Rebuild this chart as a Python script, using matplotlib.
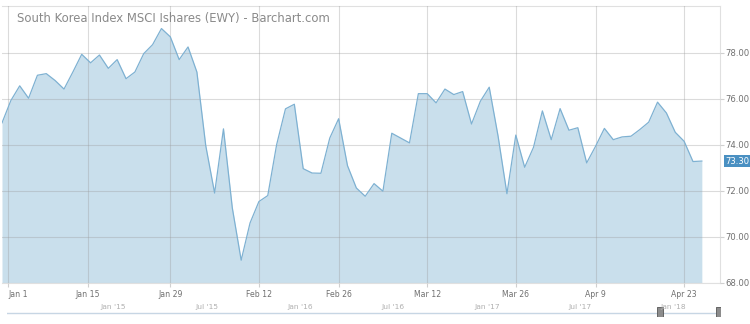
import matplotlib
matplotlib.use('Agg')
import matplotlib.pyplot as plt
import numpy as np

# daily closes, Dec 29 2017 .. Apr 25 2018 (trading days)
closes = [74.96, 75.93, 76.57, 76.03, 77.03, 77.10, 76.80, 76.43, 77.17, 77.94,
          77.57, 77.91, 77.33, 77.71, 76.88, 77.17, 77.97, 78.36, 79.06, 78.70,
          77.71, 78.26, 77.17, 73.97, 71.91, 74.70, 71.26, 68.99, 70.61, 71.54,
          71.80, 74.01, 75.57, 75.77, 72.97, 72.78, 72.77, 74.30, 75.14, 73.10,
          72.13, 71.77, 72.32, 71.99, 74.51, 74.30, 74.09, 76.23, 76.23, 75.83,
          76.43, 76.19, 76.32, 74.91, 75.90, 76.51, 74.38, 71.88, 74.43, 73.03,
          73.90, 75.48, 74.23, 75.58, 74.64, 74.75, 73.22, 73.94, 74.72, 74.23,
          74.35, 74.38, 74.67, 74.99, 75.86, 75.39, 74.55, 74.16, 73.28, 73.30]
# date labels and where they sit on the trading-day index
tick_pos = [0.7, 9.7, 19, 29, 38, 48, 58, 67, 77]
tick_labels = ['Jan 1', 'Jan 15', 'Jan 29', 'Feb 12', 'Feb 26', 'Mar 12', 'Mar 26', 'Apr 9', 'Apr 23']
y_ticks = [68, 70, 72, 74, 76, 78]

# navigator (years)
nav_ticks = [2015.0, 2015.5, 2016.0, 2016.5, 2017.0, 2017.5, 2018.0]
nav_labels = ["Jan '15", "Jul '15", "Jan '16", "Jul '16", "Jan '17", "Jul '17", "Jan '18"]
nav_range = [2014.43, 2018.25]
nav_window = [2017.93, 2018.245]

W, H = 750, 324
fig = plt.figure(figsize=(W / 100, H / 100), dpi=100)
ax = fig.add_axes([2 / W, 1 - 283 / H, 718 / W, 277 / H])

x = np.arange(len(closes))
ax.fill_between(x, closes, 68, color='#c9dfec', lw=0, zorder=1)
ax.plot(x, closes, color='#7eb1d2', lw=0.9, zorder=3)
ax.set_xlim(0, 81.05)
ax.set_ylim(68, 80.04)

ax.set_xticks(tick_pos)
ax.set_xticklabels(tick_labels)
ax.set_yticks(y_ticks)
ax.set_yticklabels(['%.2f' % v for v in y_ticks])
ax.yaxis.tick_right()
ax.tick_params(axis='both', colors='#d0d0d0', labelcolor='#707070', length=3, width=0.8)
ax.tick_params(axis='x', labelsize=5.6, pad=2)
ax.tick_params(axis='y', labelsize=6.1, pad=1)
# first label gets pushed inside the chart, like the original
first = ax.get_xticklabels()[0]
first.set_horizontalalignment('left')
first.set_x(0.2)
ax.grid(True, color='#9a9a9a', alpha=0.35, lw=0.8, zorder=2)
ax.set_axisbelow(False)
for s in ax.spines.values():
    s.set_color('#e0e0e0')
    s.set_linewidth(0.8)
ax.spines['left'].set_visible(False)

ax.text(0.0205, 0.955, 'South Korea Index MSCI Ishares (EWY) - Barchart.com',
        transform=ax.transAxes, fontsize=8.4, color='#8a8a8a', va='center', ha='left')

# last price tag
ax.annotate('%.2f' % closes[-1], xy=(1.0, closes[-1]), xycoords=('axes fraction', 'data'),
            xytext=(3.5, 0), textcoords='offset points', fontsize=6.1, color='white',
            va='center', ha='left',
            bbox=dict(boxstyle='square,pad=0.15', fc='#4a90c2', ec='none'))

# navigator
nav = fig.add_axes([7 / W, 1 - 316 / H, 713 / W, 12 / H])
nav.set_xlim(*nav_range)
nav.set_ylim(0, 1)
nav.axhline(0.25, color='#c7d6e4', lw=1)
handle = [(-0.45, -1), (0.45, -1), (0.45, 1), (-0.45, 1), (-0.45, -1)]
for t in nav_window:
    nav.plot([t], [0.25], marker=handle, ms=9, mfc='#8c8c8c', mec='#555555', mew=0.6, ls='none')
for t, lab in zip(nav_ticks, nav_labels):
    nav.text(t, 0.75, lab, ha='center', va='center', fontsize=5.4, color='#b0b0b0')
nav.axis('off')

fig.savefig('out.png', dpi=100)
